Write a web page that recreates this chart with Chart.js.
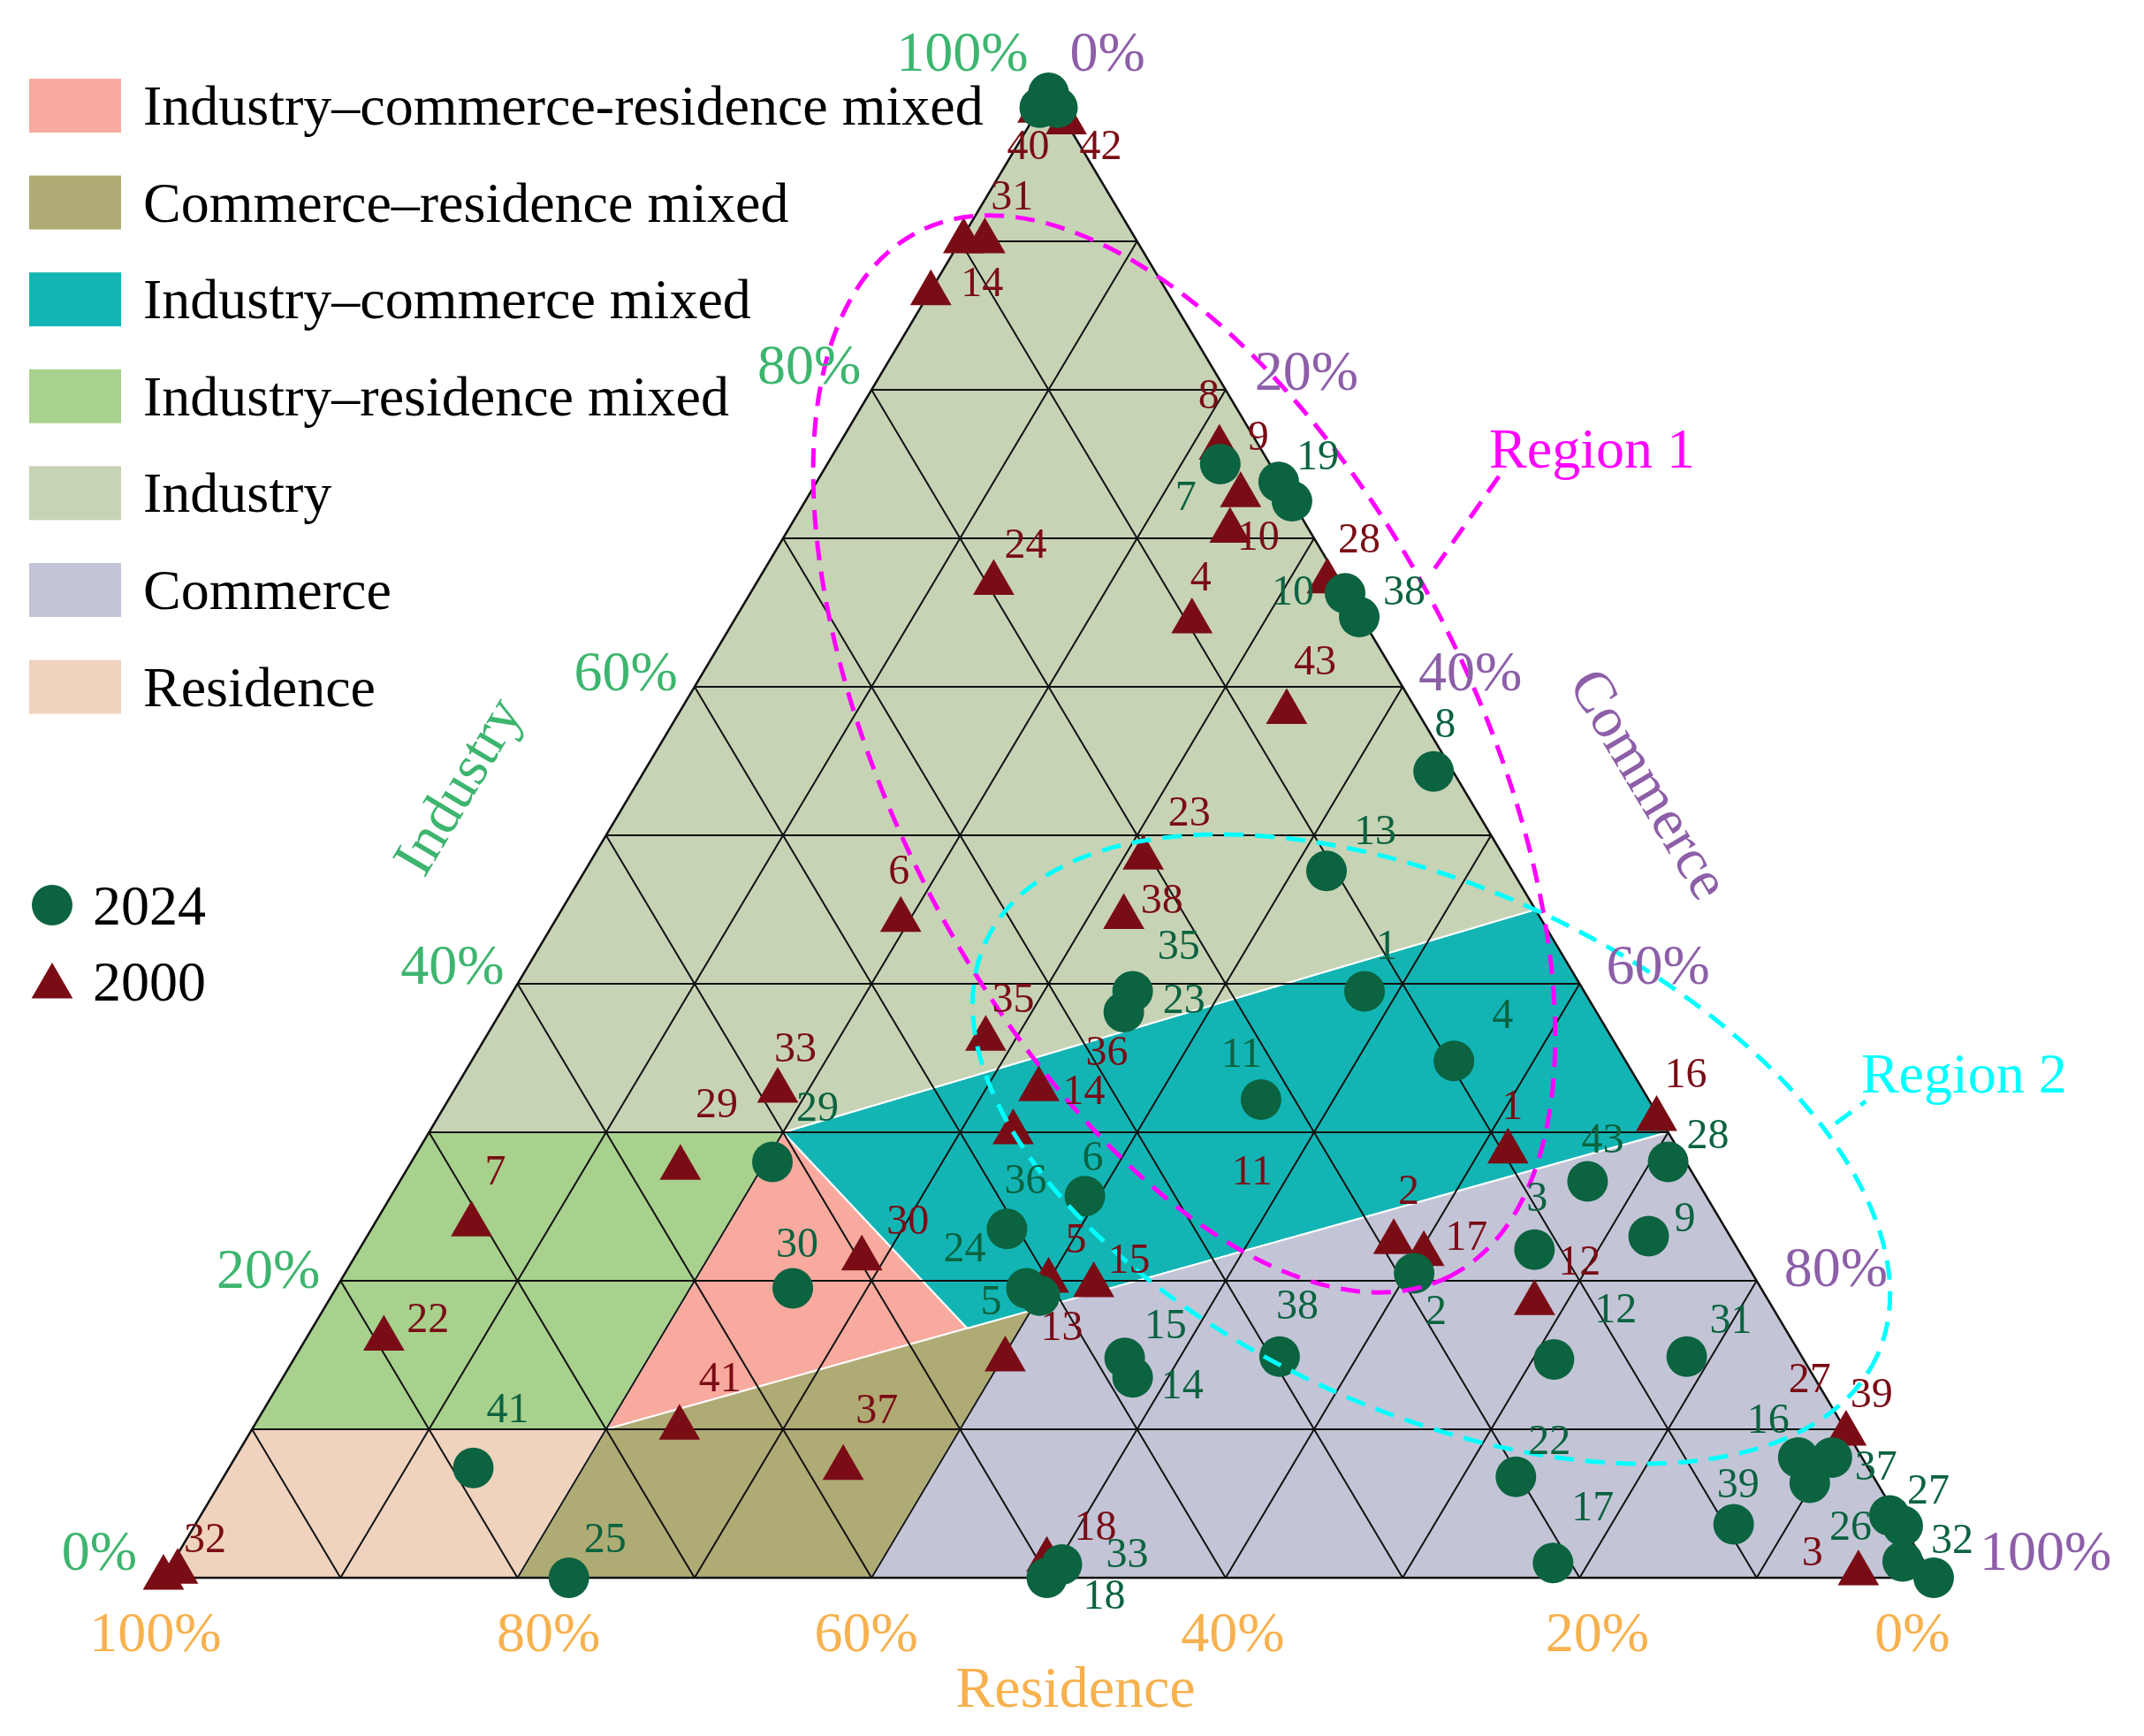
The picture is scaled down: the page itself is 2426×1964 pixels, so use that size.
<!DOCTYPE html>
<html lang="en">
<head>
<meta charset="UTF-8">
<title>Land-use mix ternary plot, 2000 vs 2024</title>
<script src="https://cdn.jsdelivr.net/npm/chart.js"></script>
<style>
  html, body { margin: 0; padding: 0; background: #fff; overflow: hidden; }
  #wrap { width: 2426px; height: 1964px; position: relative; }
</style>
</head>
<body>
<div id="wrap"><canvas id="tern"></canvas></div>
<script>
// shares in percent; residence is whatever is left (100 - industry - commerce)
const labels2024 = ['1','2','3','4','5','6','7','8','9','10','11','12','13','14','15','16','17','18','19','',
  '','22','23','24','25','26','27','28','29','30','31','32','33','','35','36','37','38','38','39','','41','','43',''];
const industry2024 = [39.5,20.5,22.1,34.8,19.0,25.7,75.0,54.3,23.0,66.3,32.2,14.7,47.6,13.5,14.8,8.1,1.0,0.0,73.8,100,
  6.4,6.8,38.1,19.5,0.0,4.2,3.5,28.0,28.0,19.5,14.9,0.0,0.9,72.5,39.5,23.5,8.1,64.7,14.9,3.6,99,7.4,99,26.7,1.1];
const commerce2024 = [48.1,60.4,66.4,55.5,40.0,39.2,22.2,44.6,72.4,33.6,45.9,71.2,41.9,48.0,46.9,88.3,78.0,49.9,26.1,0,
  89.8,73.0,35.2,39.0,22.9,95.4,96.5,71.0,20.4,25.8,78.6,100,50.3,27.5,35.0,35.9,90.2,35.2,55.6,86.9,0,13.8,1,67.1,97.7];

const labels2000 = ['1','2','3','4','5','6','7','8','9','10','11','12','13','14','36','14','15','16','17','18',
  '22','23','24','27','28','29','30','31','','32','','33','35','37','38','39','40','41','42','43'];
const industry2000 = [28.7,22.6,0.3,64.4,20.0,44.3,23.8,76.1,72.9,70.5,32.0,18.5,14.7,86.5,32.9,30.0,19.7,30.9,21.8,1.2,
  16.1,48.5,67.0,8.1,67.1,27.6,21.5,90.0,90.0,0.0,0.4,32.8,36.3,7.4,44.5,9.7,98.8,10.1,98.0,58.3];
const commerce2000 = [61.6,58.2,95.6,25.9,40.0,19.5,5.5,21.6,24.4,25.0,46.0,68.2,40.2,0.1,33.0,33.0,42.7,68.9,60.3,49.3,
  4.4,31.1,13.4,88.3,32.2,15.4,28.7,0.2,1.4,0.0,0.6,18.3,28.3,34.7,32.0,90.2,0.0,24.1,2.0,34.3];
// 2000 sites whose marker is covered by a 2024 marker in the reference (only the number shows)
const covered2000 = ['11', '27'];

const tickValues = [0, 20, 40, 60, 80, 100];
const gridSteps = [10, 20, 30, 40, 50, 60, 70, 80, 90];

// land-use classes, corners given as [industry, commerce]
const zoneNames = ['Industry\u2013commerce-residence mixed', 'Commerce\u2013residence mixed', 'Industry\u2013commerce mixed',
  'Industry\u2013residence mixed', 'Industry', 'Commerce', 'Residence'];
const zoneCorners = [
  [[10, 20], [30, 20], [16.8, 37]],
  [[0, 20], [0, 40], [18, 40], [10, 20]],
  [[30, 20], [45, 55], [30, 70], [18, 40], [16.8, 37]],
  [[10, 0], [30, 0], [30, 20], [10, 20]],
  [[100, 0], [30, 0], [30, 20], [45, 55]],
  [[0, 40], [0, 100], [30, 70], [18, 40]],
  [[0, 0], [10, 0], [10, 20], [0, 20]]
];
const zoneColors = ['#F9AA9F', '#AFAB74', '#13B5B4', '#A7D18D', '#C7D3B5', '#C3C5D7', '#EFD3BE'];

// the two circled groups, in plot units (x along the base, y up), axes in side lengths
const regionNames = ['Region 1', 'Region 2'];
const regionColors = ['#FF00FF', '#00FFFF'];
const regionEllipses = [
  { cx: 0.5766, cy: 0.5548, a: 0.331, b: 0.164, angle: 63 },
  { cx: 0.7162, cy: 0.2887, a: 0.2776, b: 0.1473, angle: 25 }
];
const regionLeaders = [[[0.7544, 0.7417], [0.7154, 0.675]], [[0.9446, 0.306], [0.9616, 0.3208]]];
const regionText = [[0.7489, 0.7476], [0.959, 0.327]];

// label nudges (px) so numbers sit where the reference puts them
const off2024 = [[25,-49],[25,45],[3,-56],[55,-50],[-55,9],[9,-42],[-39,39],[13,-51],[41,-18],[-59,0],[-22,-50],[70,-55],
  [55,-43],[56,11],[46,-35],[-34,-41],[45,-61],[65,22],[44,-27],[0,0],[0,0],[38,-38],[68,-12],[-70,-43],[41,-42],[-44,15],
  [29,-38],[45,-28],[51,-59],[5,-48],[50,-39],[21,-41],[74,-9],[0,0],[52,-49],[21,-53],[50,12],[51,-27],[20,-55],[5,-43],
  [0,0],[39,-64],[0,0],[17,-45],[0,0]];
const off2000 = [[5,-49],[17,-56],[-52,-22],[10,-48],[31,-45],[-2,-53],[27,-58],[-12,-57],[20,-64],[32,9],[-10,80],[51,-45],
  [64,-35],[58,-9],[77,-40],[80,-45],[40,-27],[33,-48],[48,-17],[55,-35],[50,-20],[52,-49],[36,-41],[13,-87],[36,-45],
  [41,-70],[52,-40],[55,-49],[0,0],[47,-42],[0,0],[20,-46],[31,-43],[38,-63],[43,-17],[29,-43],[-11,42],[46,-54],[39,29],[32,-55]];

const GREEN = '#0B6340', RED = '#7A0C15';
const IND_COL = '#3DB56F', COM_COL = '#8D5FA8', RES_COL = '#F7B14E';
const FONT = '"Liberation Serif", "Times New Roman", serif';

const toPlot = (ind, com) => ({ x: (com + ind / 2) / 100, y: ind / 100 });
const pts2024 = industry2024.map((v, i) => toPlot(v, commerce2024[i]));
const pts2000 = industry2000.map((v, i) => toPlot(v, commerce2000[i]));

function tern(chart, ind, com) {
  const p = toPlot(ind, com);
  return [chart.scales.x.getPixelForValue(p.x), chart.scales.y.getPixelForValue(p.y)];
}
function plotPx(chart, x, y) {
  return [chart.scales.x.getPixelForValue(x), chart.scales.y.getPixelForValue(y)];
}
function line(ctx, a, b) {
  ctx.beginPath();
  ctx.moveTo(a[0], a[1]);
  ctx.lineTo(b[0], b[1]);
  ctx.stroke();
}

const ternaryPlugin = {
  id: 'ternary',
  beforeDatasetsDraw(chart) {
    const ctx = chart.ctx;
    ctx.save();
    // class areas
    zoneCorners.forEach((poly, k) => {
      ctx.beginPath();
      poly.forEach((c, j) => {
        const p = tern(chart, c[0], c[1]);
        if (j === 0) ctx.moveTo(p[0], p[1]); else ctx.lineTo(p[0], p[1]);
      });
      ctx.closePath();
      ctx.fillStyle = zoneColors[k];
      ctx.fill();
      ctx.strokeStyle = '#fff';
      ctx.lineWidth = 2;
      ctx.stroke();
    });
    // 10% grid in all three directions
    ctx.strokeStyle = '#111';
    ctx.lineWidth = 2;
    gridSteps.forEach(v => {
      line(ctx, tern(chart, v, 0), tern(chart, v, 100 - v));        // industry
      line(ctx, tern(chart, 0, v), tern(chart, 100 - v, v));        // commerce
      line(ctx, tern(chart, 0, 100 - v), tern(chart, 100 - v, 0));  // residence
    });
    ctx.lineWidth = 2.5;
    ctx.beginPath();
    [[0, 0], [0, 100], [100, 0]].forEach((c, j) => {
      const p = tern(chart, c[0], c[1]);
      if (j === 0) ctx.moveTo(p[0], p[1]); else ctx.lineTo(p[0], p[1]);
    });
    ctx.closePath();
    ctx.stroke();
    ctx.restore();
  },
  afterDatasetsDraw(chart) {
    const ctx = chart.ctx;
    const side = chart.scales.x.right - chart.scales.x.left;
    ctx.save();
    // dashed region outlines
    ctx.lineWidth = 5;
    ctx.setLineDash([22, 13]);
    regionEllipses.forEach((e, k) => {
      const c = plotPx(chart, e.cx, e.cy);
      ctx.strokeStyle = regionColors[k];
      ctx.beginPath();
      ctx.ellipse(c[0], c[1], e.a * side, e.b * side, e.angle * Math.PI / 180, 0, Math.PI * 2);
      ctx.stroke();
      const l = regionLeaders[k];
      line(ctx, plotPx(chart, l[0][0], l[0][1]), plotPx(chart, l[1][0], l[1][1]));
    });
    ctx.setLineDash([]);

    // point numbers
    ctx.font = '48px ' + FONT;
    ctx.textAlign = 'center';
    ctx.textBaseline = 'middle';
    [[1, labels2000, off2000, RED], [0, labels2024, off2024, GREEN]].forEach(([di, labs, offs, col]) => {
      const meta = chart.getDatasetMeta(di);
      ctx.fillStyle = col;
      meta.data.forEach((pt, i) => {
        if (!labs[i]) return;
        ctx.fillText(labs[i], pt.x + offs[i][0], pt.y + offs[i][1]);
      });
    });
    ctx.restore();
  },
  afterDraw(chart) {
    const ctx = chart.ctx;
    ctx.save();
    ctx.font = '64px ' + FONT;
    ctx.textBaseline = 'alphabetic';

    // industry ticks on the left side
    const indOff = [[-30, -9], [-23, 8], [-15, 0], [-19, 4], [-12, -7], [-23, -25]];
    ctx.fillStyle = IND_COL;
    ctx.textAlign = 'right';
    tickValues.forEach((v, i) => {
      const p = tern(chart, v, 0);
      ctx.fillText(v + '%', p[0] + indOff[i][0], p[1] + indOff[i][1]);
    });
    // commerce ticks on the right side
    const comOff = [[24, -25], [33, 0], [18, 4], [30, 0], [31, 6], [52, -9]];
    ctx.fillStyle = COM_COL;
    ctx.textAlign = 'left';
    tickValues.forEach((v, i) => {
      const p = tern(chart, 100 - v, v);
      ctx.fillText(v + '%', p[0] + comOff[i][0], p[1] + comOff[i][1]);
    });
    // residence ticks along the base, 100% at the left
    const resOff = [-9, 35, -6, 8, 20, -24];
    ctx.fillStyle = RES_COL;
    ctx.textAlign = 'center';
    tickValues.slice().reverse().forEach((v, i) => {
      const p = tern(chart, 0, 100 - v);
      ctx.fillText(v + '%', p[0] + resOff[i], p[1] + 83);
    });

    // axis titles
    const sideAngle = Math.atan2(chart.scales.y.bottom - chart.scales.y.top,
      (chart.scales.x.right - chart.scales.x.left) / 2);
    ctx.font = '66px ' + FONT;
    ctx.textBaseline = 'middle';
    let p = plotPx(chart, 0.168, 0.532);
    ctx.save();
    ctx.translate(p[0], p[1]);
    ctx.rotate(-sideAngle);
    ctx.fillStyle = IND_COL;
    ctx.fillText('Industry', 0, 0);
    ctx.restore();
    p = plotPx(chart, 0.8377, 0.5333);
    ctx.save();
    ctx.translate(p[0], p[1]);
    ctx.rotate(sideAngle);
    ctx.fillStyle = COM_COL;
    ctx.fillText('Commerce', 0, 0);
    ctx.restore();
    p = plotPx(chart, 0.5152, -0.0768);
    ctx.fillStyle = RES_COL;
    ctx.fillText('Residence', p[0], p[1]);

    // region names
    ctx.font = '64px ' + FONT;
    ctx.textAlign = 'left';
    ctx.textBaseline = 'alphabetic';
    regionNames.forEach((name, k) => {
      const q = plotPx(chart, regionText[k][0], regionText[k][1]);
      ctx.fillStyle = regionColors[k];
      ctx.fillText(name, q[0], q[1]);
    });

    // legend: class swatches
    zoneNames.forEach((name, k) => {
      const top = 89 + k * 109.6;
      ctx.fillStyle = zoneColors[k];
      ctx.fillRect(33, top, 104, 61);
      ctx.fillStyle = '#000';
      ctx.fillText(name, 162, top + 52);
    });
    // legend: years
    ctx.fillStyle = GREEN;
    ctx.beginPath();
    ctx.arc(59, 1024, 23, 0, Math.PI * 2);
    ctx.fill();
    ctx.fillStyle = RED;
    ctx.beginPath();
    const r = 27, ty = 1116;
    ctx.moveTo(59, ty - r);
    ctx.lineTo(59 + r * Math.sin(2 * Math.PI / 3), ty + r / 2);
    ctx.lineTo(59 - r * Math.sin(2 * Math.PI / 3), ty + r / 2);
    ctx.closePath();
    ctx.fill();
    ctx.fillStyle = '#000';
    ctx.fillText('2024', 105, 1046);
    ctx.fillText('2000', 105, 1132);
    ctx.restore();
  }
};

new Chart(document.getElementById('tern'), {
  type: 'scatter',
  data: {
    datasets: [
      { label: '2024', data: pts2024, pointStyle: 'circle', pointRadius: 23, pointHoverRadius: 23,
        backgroundColor: GREEN, borderColor: GREEN, borderWidth: 0, clip: false, order: 0 },
      { label: '2000', data: pts2000, pointStyle: 'triangle',
        pointRadius: c => covered2000.includes(labels2000[c.dataIndex]) ? 0 : 27,
        pointHoverRadius: c => covered2000.includes(labels2000[c.dataIndex]) ? 0 : 27,
        backgroundColor: RED, borderColor: RED, borderWidth: 0, clip: false, order: 1 }
    ]
  },
  options: {
    responsive: true,
    maintainAspectRatio: false,
    animation: false,
    devicePixelRatio: 1,
    events: [],
    layout: { autoPadding: false, padding: { left: 185, right: 238, top: 105, bottom: 179 } },
    scales: {
      x: { type: 'linear', min: 0, max: 1, display: false },
      y: { type: 'linear', min: 0, max: 1, display: false }
    },
    plugins: { legend: { display: false }, tooltip: { enabled: false } }
  },
  plugins: [ternaryPlugin]
});
</script>
</body>
</html>
